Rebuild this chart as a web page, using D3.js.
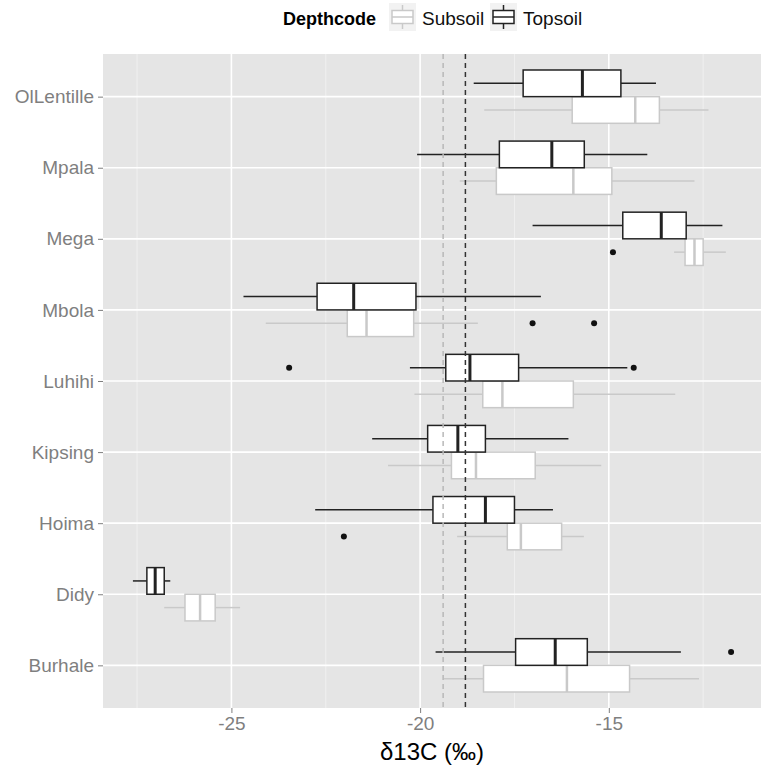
<!DOCTYPE html>
<html>
<head>
<meta charset="utf-8">
<script src="https://cdn.jsdelivr.net/npm/d3@7"></script>
<style>
  body { margin: 0; background: #fff; }
  svg { font-family: "Liberation Sans", Arial, sans-serif; }
</style>
</head>
<body>
<div id="chart"></div>
<script>
// sites, top to bottom
const sites = ['OlLentille', 'Mpala', 'Mega', 'Mbola', 'Luhihi', 'Kipsing', 'Hoima', 'Didy', 'Burhale'];

// [lower whisker, Q1, median, Q3, upper whisker] per site
const topsoilStats = [
    [-18.58, -17.27, -15.70, -14.68, -13.75],
    [-20.08, -17.90, -16.51, -15.65, -13.98],
    [-17.02, -14.63, -13.61, -12.95, -11.99],
    [-24.68, -22.73, -21.76, -20.11, -16.80],
    [-20.27, -19.32, -18.68, -17.39, -14.51],
    [-21.27, -19.80, -19.00, -18.27, -16.07],
    [-22.78, -19.66, -18.27, -17.50, -16.48],
    [-27.61, -27.24, -27.02, -26.78, -26.62],
    [-19.59, -17.47, -16.42, -15.57, -13.09]
];
const subsoilStats = [
    [-18.30, -15.97, -14.30, -13.66, -12.36],
    [-18.95, -17.98, -15.94, -14.92, -12.73],
    [-13.27, -12.98, -12.73, -12.50, -11.90],
    [-24.09, -21.93, -21.42, -20.17, -18.47],
    [-20.15, -18.34, -17.82, -15.94, -13.24],
    [-20.85, -19.17, -18.52, -16.95, -15.20],
    [-19.02, -17.69, -17.33, -16.25, -15.66],
    [-26.78, -26.23, -25.83, -25.43, -24.77],
    [-19.38, -18.32, -16.11, -14.45, -12.61]
];

const topsoilOutliers = [['Luhihi', -23.47], ['Luhihi', -14.34], ['Burhale', -11.76]];
const subsoilOutliers = [['Mega', -14.89], ['Mbola', -17.02], ['Mbola', -15.39], ['Hoima', -22.02]];

// dashed reference lines (subsoil, topsoil)
const refLines = [-19.39, -18.80];

const xTicks = [-25, -20, -15];
const xMinor = [-27.5, -22.5, -17.5, -12.5];

const width = 762;
const height = 770;
const panel = { left: 103, right: 761, top: 54, bottom: 708 };

const topColor = '#222222';
const subColor = '#c9c9c9';

const svg = d3.select('#chart')
    .append('svg')
    .attr('width', width)
    .attr('height', height);

const allValues = topsoilStats.flat().concat(subsoilStats.flat())
    .concat(topsoilOutliers.map(d => d[1]), subsoilOutliers.map(d => d[1]));
const ext = d3.extent(allValues);
const pad = (ext[1] - ext[0]) * 0.05;

const xScale = d3.scaleLinear()
    .domain([ext[0] - pad, ext[1] + pad])
    .range([panel.left, panel.right]);

const yScale = d3.scalePoint()
    .domain(sites)
    .range([panel.top, panel.bottom])
    .padding(0.6);

const step = yScale.step();
const boxH = step * 0.375;

// panel background
svg.append('rect')
    .attr('x', panel.left)
    .attr('y', panel.top)
    .attr('width', panel.right - panel.left)
    .attr('height', panel.bottom - panel.top)
    .attr('fill', '#e5e5e5');

// gridlines
const grid = svg.append('g');
grid.selectAll('.minor')
    .data(xMinor)
    .join('line')
    .attr('x1', d => xScale(d)).attr('x2', d => xScale(d))
    .attr('y1', panel.top).attr('y2', panel.bottom)
    .attr('stroke', '#f2f2f2')
    .attr('stroke-width', 0.8);
grid.selectAll('.majorx')
    .data(xTicks)
    .join('line')
    .attr('x1', d => xScale(d)).attr('x2', d => xScale(d))
    .attr('y1', panel.top).attr('y2', panel.bottom)
    .attr('stroke', '#ffffff')
    .attr('stroke-width', 1.6);
grid.selectAll('.majory')
    .data(sites)
    .join('line')
    .attr('x1', panel.left).attr('x2', panel.right)
    .attr('y1', d => yScale(d)).attr('y2', d => yScale(d))
    .attr('stroke', '#ffffff')
    .attr('stroke-width', 1.6);

// boxplots
function drawBoxes(stats, color, offset, medianWidth) {
    const g = svg.append('g');
    stats.forEach((s, i) => {
        const yTop = yScale(sites[i]) + offset;
        const yMid = yTop + boxH / 2;
        g.append('line')
            .attr('x1', xScale(s[0])).attr('x2', xScale(s[1]))
            .attr('y1', yMid).attr('y2', yMid)
            .attr('stroke', color).attr('stroke-width', 1.5);
        g.append('line')
            .attr('x1', xScale(s[3])).attr('x2', xScale(s[4]))
            .attr('y1', yMid).attr('y2', yMid)
            .attr('stroke', color).attr('stroke-width', 1.5);
        g.append('rect')
            .attr('x', xScale(s[1]))
            .attr('y', yTop)
            .attr('width', xScale(s[3]) - xScale(s[1]))
            .attr('height', boxH)
            .attr('fill', '#ffffff')
            .attr('stroke', color)
            .attr('stroke-width', 1.5);
        g.append('line')
            .attr('x1', xScale(s[2])).attr('x2', xScale(s[2]))
            .attr('y1', yTop).attr('y2', yTop + boxH)
            .attr('stroke', color).attr('stroke-width', medianWidth);
    });
}

drawBoxes(subsoilStats, subColor, 0, 2.5);
drawBoxes(topsoilStats, topColor, -boxH, 3);

// outliers
svg.append('g')
    .selectAll('circle')
    .data(topsoilOutliers.map(d => [d[0], d[1], -boxH / 2]).concat(subsoilOutliers.map(d => [d[0], d[1], boxH / 2])))
    .join('circle')
    .attr('cx', d => xScale(d[1]))
    .attr('cy', d => yScale(d[0]) + d[2])
    .attr('r', 3)
    .attr('fill', '#111111');

// reference lines
svg.append('g')
    .selectAll('line')
    .data(refLines)
    .join('line')
    .attr('x1', d => xScale(d)).attr('x2', d => xScale(d))
    .attr('y1', panel.top).attr('y2', panel.bottom)
    .attr('stroke', (d, i) => i === 0 ? '#b8b8b8' : '#333333')
    .attr('stroke-width', 1.5)
    .attr('stroke-dasharray', '5,4');

// axes
const xAxis = svg.append('g')
    .attr('transform', `translate(0, ${panel.bottom})`)
    .call(d3.axisBottom(xScale).tickValues(xTicks).tickSize(5).tickPadding(4).tickFormat(d3.format('d')));
const yAxis = svg.append('g')
    .attr('transform', `translate(${panel.left}, 0)`)
    .call(d3.axisLeft(yScale).tickSize(5).tickPadding(4));

[xAxis, yAxis].forEach(a => {
    a.select('.domain').remove();
    a.selectAll('line').attr('stroke', '#7f7f7f').attr('stroke-width', 1);
    a.selectAll('text')
        .attr('fill', '#7f7f7f')
        .style('font-size', '19px')
        .style('font-family', '"Liberation Sans", Arial, sans-serif');
});
xAxis.selectAll('text').text(d => '-' + Math.abs(d));

// axis title
svg.append('text')
    .attr('x', (panel.left + panel.right) / 2)
    .attr('y', 760)
    .attr('text-anchor', 'middle')
    .style('font-size', '24px')
    .attr('fill', '#000')
    .text('δ13C (‰)');

// legend
const legend = svg.append('g');
legend.append('text')
    .attr('x', 283)
    .attr('y', 25)
    .style('font-size', '18px')
    .style('font-weight', 'bold')
    .text('Depthcode');

const legendItems = [
    { label: 'Subsoil', color: subColor, x: 389 },
    { label: 'Topsoil', color: topColor, x: 490 }
];
legendItems.forEach(item => {
    const k = legend.append('g').attr('transform', `translate(${item.x}, 3)`);
    k.append('rect')
        .attr('width', 27).attr('height', 28)
        .attr('fill', '#f2f2f2');
    k.append('line')
        .attr('x1', 13.5).attr('x2', 13.5).attr('y1', 2).attr('y2', 26)
        .attr('stroke', item.color).attr('stroke-width', 1.5);
    k.append('rect')
        .attr('x', 3).attr('y', 7.5)
        .attr('width', 21).attr('height', 13)
        .attr('fill', '#fff')
        .attr('stroke', item.color).attr('stroke-width', 1.5);
    k.append('line')
        .attr('x1', 3).attr('x2', 24).attr('y1', 14).attr('y2', 14)
        .attr('stroke', item.color).attr('stroke-width', 1.5);
    legend.append('text')
        .attr('x', item.x + 33)
        .attr('y', 25)
        .style('font-size', '19px')
        .attr('fill', '#111')
        .text(item.label);
});
</script>
</body>
</html>
